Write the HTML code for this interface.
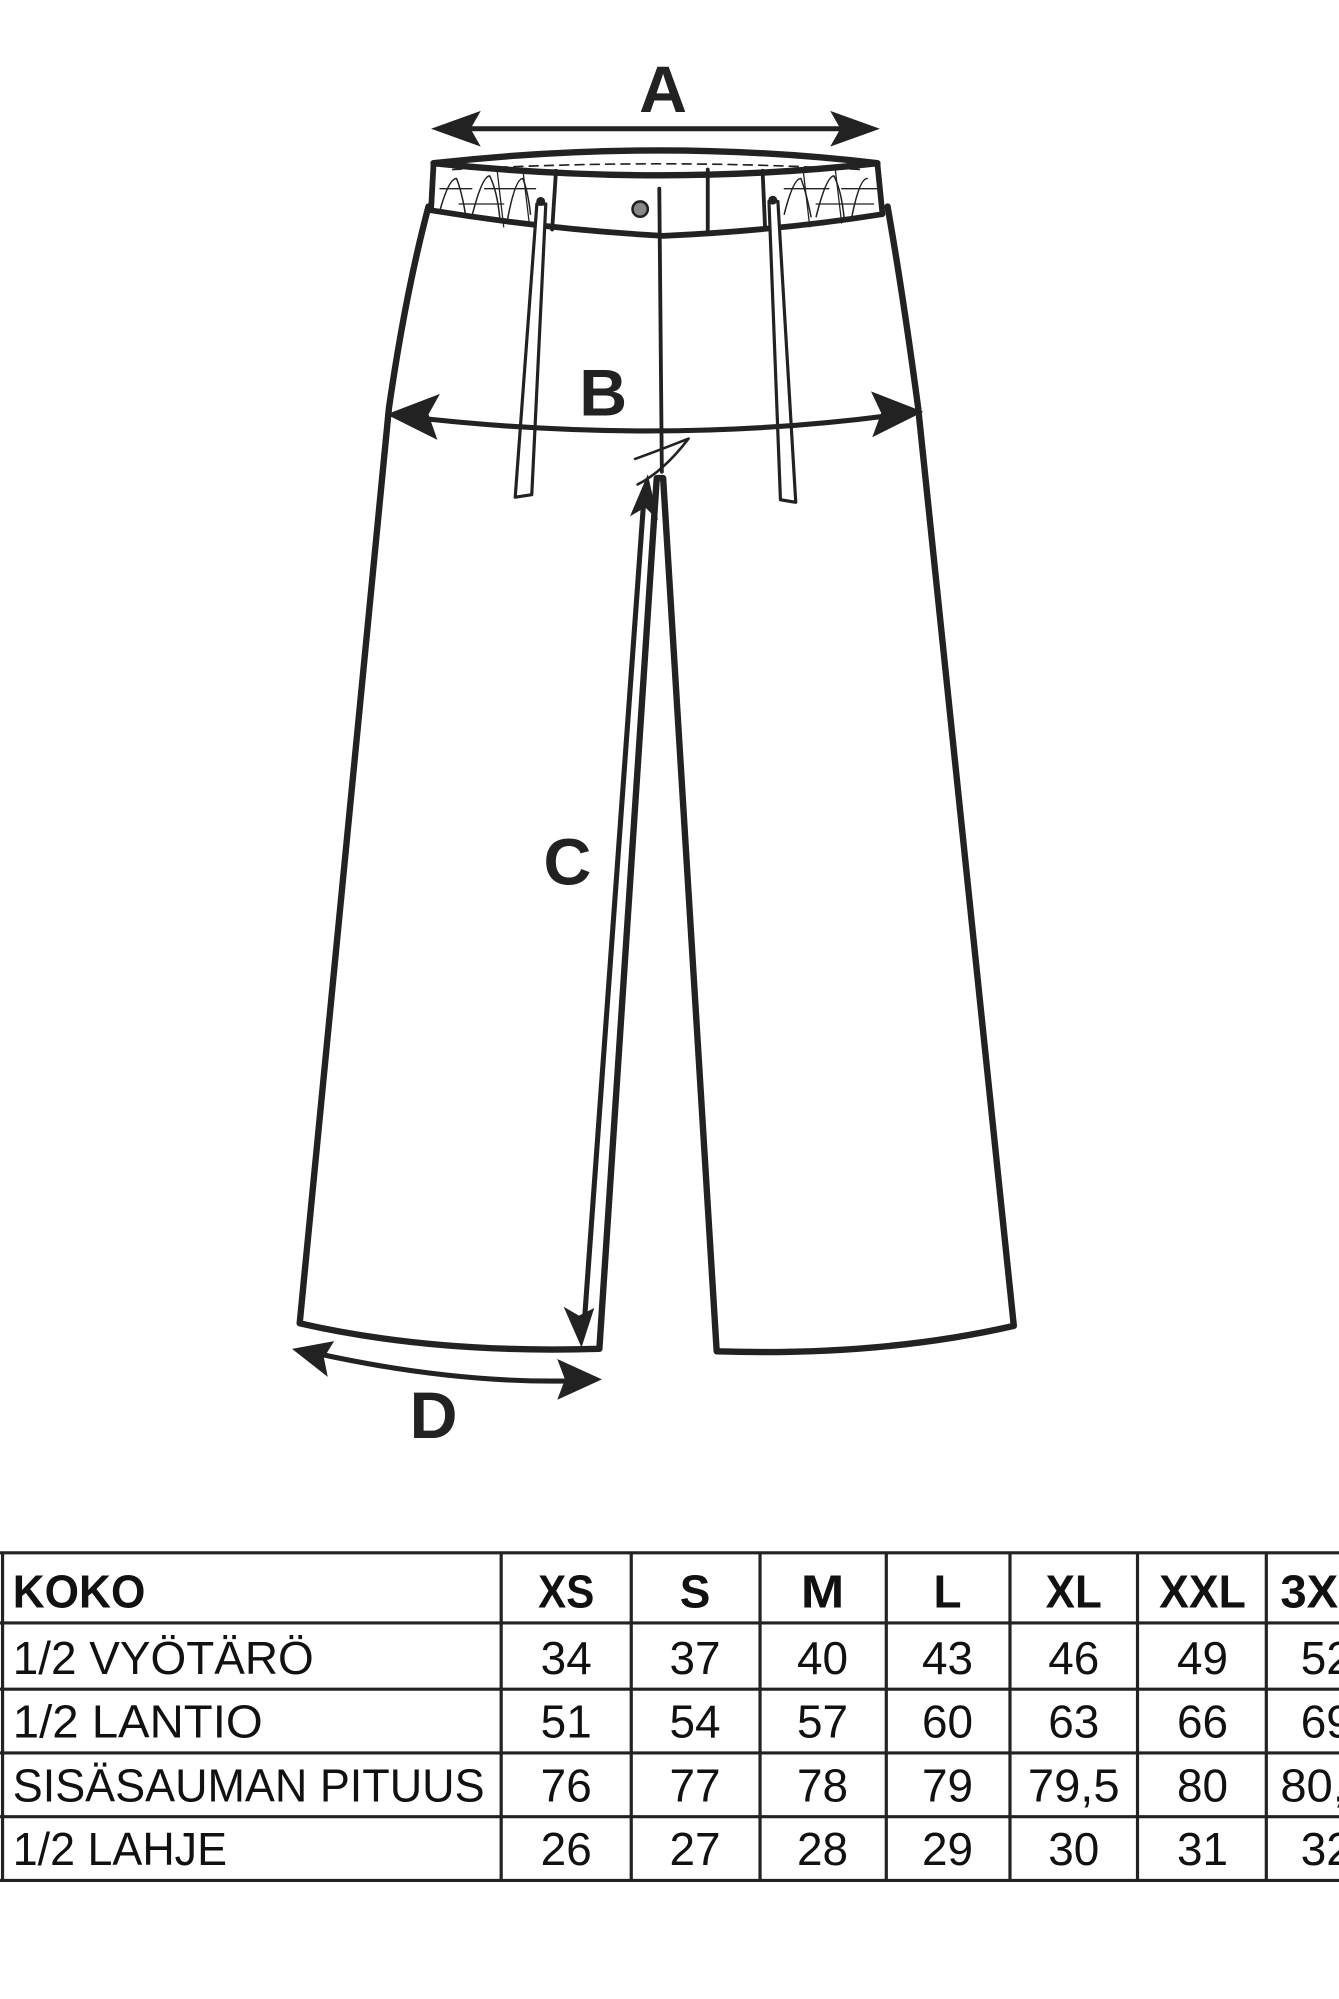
<!DOCTYPE html>
<html><head><meta charset="utf-8"><style>html,body{margin:0;padding:0;background:#fff}svg{display:block}</style></head>
<body>
<svg width="1339" height="1999" viewBox="0 0 1050 1568" preserveAspectRatio="none" xmlns="http://www.w3.org/2000/svg">
<g fill="none" stroke="#222" stroke-linejoin="round" stroke-linecap="round">
<path d="M336,162 Q318,230 305,320 L235,1038 Q340,1062 470,1058 L515,375 L520,375 L562,1060 Q690,1064 795,1040 L720,320 Q708,230 696,162" stroke-width="5"/>
<path d="M340,128 Q520,108 688,128 Q520,147 340,128 Z" stroke-width="5"/>
<path d="M340,128 L338,165 Q430,180 520,185 Q610,181 692,168 L688,128" stroke-width="4.5"/>
<path d="M355,133 Q520,124 675,133" stroke-width="1.3" stroke-dasharray="7,5"/>
<line x1="555" y1="133" x2="555" y2="183" stroke-width="3"/>
<line x1="436" y1="134" x2="433" y2="180" stroke-width="3"/>
<line x1="598" y1="134" x2="600" y2="180" stroke-width="3"/>
<path d="M345,165 Q352,140 358,140 Q362,150 365,168 M370,170 Q378,138 384,138 Q390,150 392,172 M398,172 Q404,140 410,140 Q414,150 416,168" stroke-width="1.2"/>
<path d="M345,148 L370,148 M360,160 L395,160 M380,148 L420,148 M390,135 L395,178 M410,133 L415,175" stroke-width="1"/>
<path d="M615,168 Q622,140 628,140 Q632,150 636,170 M640,170 Q648,138 654,138 Q660,150 662,172 M668,170 Q674,140 680,140" stroke-width="1.2"/>
<path d="M615,148 L650,148 M640,160 L685,160 M660,148 L688,148 M630,135 L635,178 M655,133 L660,175" stroke-width="1"/>
<line x1="517" y1="148" x2="519" y2="370" stroke-width="3"/>
<path d="M498,360 Q520,352 540,344 Q520,370 500,380" stroke-width="2"/>
<path d="M421,160 L404,390 L417,388 L428,160 Z" stroke-width="2.5" fill="#fff"/>
<path d="M603,158 L612,392 L624,394 L610,158 Z" stroke-width="2.5" fill="#fff"/>
</g>
<circle cx="424" cy="158" r="3.5" fill="#222"/>
<circle cx="606" cy="157" r="3.5" fill="#222"/>
<circle cx="502" cy="164" r="6" fill="#888" stroke="#222" stroke-width="2"/>
<g stroke="#222" fill="none" stroke-width="4">
<line x1="360" y1="101" x2="668" y2="101"/>
<path d="M320,327 Q520,350 705,325"/>
<line x1="505" y1="390" x2="458" y2="1040"/>
<path d="M250,1062 Q360,1086 455,1083"/>
</g>
<g fill="#222">
<polygon points="338,101 377,87 369,101 377,115"/>
<polygon points="690,101 651,87 659,101 651,115"/>
<polygon points="303,325 345,309 336,325 343,345"/>
<polygon points="724,323 683,307 691,324 684,343"/>
<polygon points="508,372 494,405 506,398 516,408"/>
<polygon points="456,1057 442,1025 454,1032 466,1026"/>
<polygon points="229,1058 262,1052 254,1065 257,1080"/>
<polygon points="472,1082 437,1066 443,1082 437,1098"/>
</g>
<g font-family="Liberation Sans, sans-serif" font-weight="bold" fill="#222" font-size="52" text-anchor="middle">
<text x="520" y="88">A</text>
<text x="473" y="326">B</text>
<text x="445" y="694">C</text>
<text x="340" y="1128">D</text>
</g>
<g stroke="#222" stroke-width="2.5">
<line x1="0" y1="1218" x2="1050" y2="1218"/>
<line x1="0" y1="1273" x2="1050" y2="1273"/>
<line x1="0" y1="1325" x2="1050" y2="1325"/>
<line x1="0" y1="1375" x2="1050" y2="1375"/>
<line x1="0" y1="1425" x2="1050" y2="1425"/>
<line x1="0" y1="1475" x2="1050" y2="1475"/>
<line x1="2" y1="1218" x2="2" y2="1475"/>
<line x1="393" y1="1218" x2="393" y2="1475"/>
<line x1="495" y1="1218" x2="495" y2="1475"/>
<line x1="596" y1="1218" x2="596" y2="1475"/>
<line x1="695" y1="1218" x2="695" y2="1475"/>
<line x1="792" y1="1218" x2="792" y2="1475"/>
<line x1="892" y1="1218" x2="892" y2="1475"/>
<line x1="993" y1="1218" x2="993" y2="1475"/>
</g>
<g font-family="Liberation Sans, sans-serif" fill="#111" font-size="36">
<g font-weight="bold" text-anchor="middle">
<text x="62" y="1261" textLength="104" lengthAdjust="spacingAndGlyphs">KOKO</text>
<text x="444" y="1261" textLength="44" lengthAdjust="spacingAndGlyphs">XS</text>
<text x="545" y="1261">S</text>
<text x="645" y="1261" textLength="34" lengthAdjust="spacingAndGlyphs">M</text>
<text x="743" y="1261">L</text>
<text x="842" y="1261" textLength="44" lengthAdjust="spacingAndGlyphs">XL</text>
<text x="943" y="1261" textLength="68" lengthAdjust="spacingAndGlyphs">XXL</text>
<text x="1038" y="1261" textLength="68" lengthAdjust="spacingAndGlyphs">3XL</text>
</g>
<text x="10" y="1313" textLength="236" lengthAdjust="spacingAndGlyphs">1/2 VYÖTÄRÖ</text>
<text x="10" y="1363" textLength="196" lengthAdjust="spacingAndGlyphs">1/2 LANTIO</text>
<text x="10" y="1413" textLength="370" lengthAdjust="spacingAndGlyphs">SISÄSAUMAN PITUUS</text>
<text x="10" y="1463" textLength="168" lengthAdjust="spacingAndGlyphs">1/2 LAHJE</text>
<g text-anchor="middle">
<text x="444" y="1313">34</text><text x="545" y="1313">37</text><text x="645" y="1313">40</text><text x="743" y="1313">43</text><text x="842" y="1313">46</text><text x="943" y="1313">49</text><text x="1040" y="1313">52</text>
<text x="444" y="1363">51</text><text x="545" y="1363">54</text><text x="645" y="1363">57</text><text x="743" y="1363">60</text><text x="842" y="1363">63</text><text x="943" y="1363">66</text><text x="1040" y="1363">69</text>
<text x="444" y="1413">76</text><text x="545" y="1413">77</text><text x="645" y="1413">78</text><text x="743" y="1413">79</text><text x="842" y="1413" textLength="72" lengthAdjust="spacingAndGlyphs">79,5</text><text x="943" y="1413">80</text><text x="1040" y="1413" textLength="72" lengthAdjust="spacingAndGlyphs">80,5</text>
<text x="444" y="1463">26</text><text x="545" y="1463">27</text><text x="645" y="1463">28</text><text x="743" y="1463">29</text><text x="842" y="1463">30</text><text x="943" y="1463">31</text><text x="1040" y="1463">32</text>
</g>
</g>
</svg>
</body></html>
